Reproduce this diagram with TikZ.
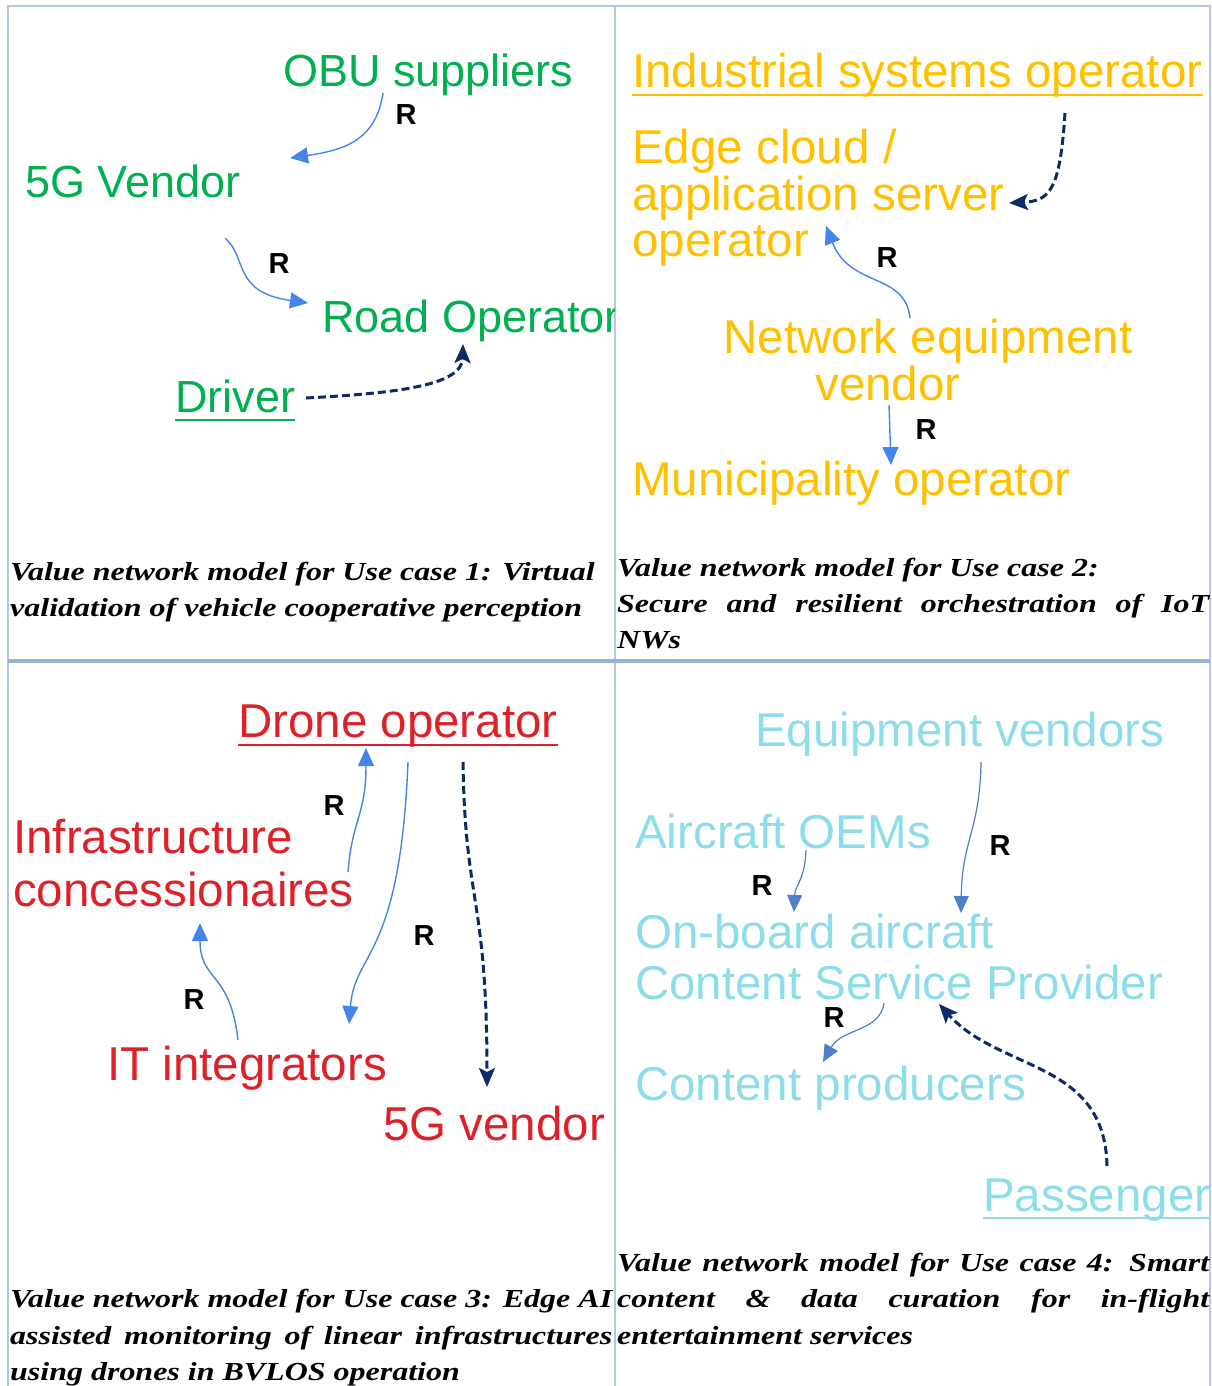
\documentclass[tikz,border=0pt]{standalone}
\usepackage{fontspec}
\setmainfont{Liberation Sans}
\newfontfamily\capfont[FakeStretch=1.23]{Liberation Serif}
\usetikzlibrary{arrows.meta}

\definecolor{gridline}{HTML}{B4C7E7}
\definecolor{gridthick}{HTML}{95B3D7}
\definecolor{actgreen}{HTML}{00B050}
\definecolor{actorange}{HTML}{FFC000}
\definecolor{actred}{HTML}{DE2129}
\definecolor{actcyan}{HTML}{8CDDE8}
\definecolor{relblue}{HTML}{4385EC}
\definecolor{relgrey}{HTML}{4E7FCC}
\definecolor{depnavy}{HTML}{0D2A66}

\tikzset{
  actor/.style={inner sep=0pt, anchor=base west},
  actorc/.style={inner sep=0pt, anchor=base},
  fgreen/.style={text=actgreen, font=\fontsize{45}{54}\selectfont},
  forange/.style={text=actorange, font=\fontsize{47.5}{56}\selectfont},
  fred/.style={text=actred, font=\fontsize{47.5}{56}\selectfont},
  fcyan/.style={text=actcyan, font=\fontsize{47.5}{56}\selectfont},
  rlabel/.style={inner sep=0pt, font=\fontsize{29}{30}\selectfont\bfseries},
  caption/.style={inner sep=0pt, anchor=base west,
    font=\capfont\fontsize{26}{30}\selectfont\bfseries\itshape},
  rel/.style={draw=relblue, line width=1.4pt, -{Triangle[length=18pt,width=16pt]}},
  relthin/.style={draw=relgrey, line width=1.2pt, -{Triangle[length=17pt,width=15pt]}},
  dep/.style={draw=depnavy, line width=3pt, dash pattern=on 8pt off 4pt,
    -{Stealth[length=19pt,width=16pt,inset=4pt]}},
  uline/.style={line width=2.5pt}
}

\begin{document}
\begin{tikzpicture}[x=1pt,y=-1pt]
\useasboundingbox (0,0) rectangle (1211,1386);

% table rules
\draw[gridline, line width=2pt] (8,1386) -- (8,6) -- (1210,6) -- (1210,1386);
\draw[gridline, line width=2pt] (615,6) -- (615,1386);
\draw[gridthick, line width=4pt] (8,661) -- (1210,661);

% ---------- Use case 1 ----------
\node[actor, fgreen] (obu) at (283,87) {OBU suppliers};
\node[actor, fgreen] (v5g) at (25,197) {5G Vendor};
\begin{scope}
  \clip (8,6) rectangle (614,660);
  \node[actor, fgreen] (road) at (322,332) {Road Operator};
\end{scope}
\node[actor, fgreen] (driver) at (175,412) {Driver};
\draw[actgreen, uline] ([yshift=-8pt]driver.base west) -- ([yshift=-8pt]driver.base east);

\coordinate (a1s) at (383,93);  \coordinate (a1e) at (290,158);
\coordinate (a2s) at (225,238); \coordinate (a2e) at (308,303);
\coordinate (d1s) at (306,398); \coordinate (d1e) at (463,344);
\draw[rel] (a1s) .. controls (376,140) and (345,150) .. (a1e);
\draw[rel] (a2s) .. controls (248,258) and (232,292) .. (a2e);
\draw[dep] (d1s) .. controls (400,393) and (462,385) .. (d1e);
\node[rlabel] (r11) at (406,115) {R};
\node[rlabel] (r12) at (279,264) {R};

% ---------- Use case 2 ----------
\node[actor, forange] (ind) at (632,88) {Industrial systems operator};
\draw[actorange, uline] ([yshift=-7pt]ind.base west) -- ([yshift=-7pt]ind.base east);
\node[actor, forange] (edge1) at (632,164) {Edge cloud /};
\node[actor, forange] (edge2) at (632,210) {application server};
\node[actor, forange] (edge3) at (632,256) {operator};
\node[actorc, forange] (net1) at (928,353) {Network equipment};
\node[actorc, forange] (net2) at (888,400) {vendor};
\node[actor, forange] (muni) at (632,495) {Municipality operator};

\coordinate (d2s) at (1065,113); \coordinate (d2e) at (1009,203);
\coordinate (a3s) at (910,318);  \coordinate (a3e) at (826,226);
\coordinate (a4s) at (889,405);  \coordinate (a4e) at (891,465);
\draw[dep] (d2s) .. controls (1060,190) and (1050,201) .. (d2e);
\draw[rel] (a3s) .. controls (905,272) and (850,288) .. (a3e);
\draw[rel] (a4s) -- (a4e);
\node[rlabel] (r21) at (887,258) {R};
\node[rlabel] (r22) at (926,430) {R};

\node[caption] (c1a) at (10,580) {Value network model for Use case 1: Virtual};
\node[caption] (c1b) at (10,616) {validation of vehicle cooperative perception};
\node[caption] (c2a) at (617,576) {Value network model for Use case 2:};
\node[caption] (c2b) at (617,612) {\makebox[592pt][s]{Secure and resilient orchestration of IoT}};
\node[caption] (c2c) at (617,648) {NWs};

% ---------- Use case 3 ----------
\node[actor, fred] (drone) at (238,737) {Drone operator};
\draw[actred, uline] ([yshift=-8pt]drone.base west) -- ([yshift=-8pt]drone.base east);
\node[actor, fred] (infra1) at (13,853) {Infrastructure};
\node[actor, fred] (infra2) at (13,906) {concessionaires};
\node[actor, fred] (itint) at (107,1080) {IT integrators};
\node[actor, fred] (v5g3) at (383,1140) {5G vendor};

\coordinate (a5s) at (348,872);  \coordinate (a5e) at (366,748);
\coordinate (a6s) at (408,762);  \coordinate (a6e) at (349,1024);
\coordinate (a7s) at (238,1040); \coordinate (a7e) at (200,923);
\coordinate (d3s) at (463,762);  \coordinate (d3e) at (487,1087);
\draw[rel] (a5s) .. controls (352,820) and (366,815) .. (a5e);
\draw[rel] (a6s) .. controls (400,960) and (355,950) .. (a6e);
\draw[rel] (a7s) .. controls (230,970) and (200,982) .. (a7e);
\draw[dep] (d3s) .. controls (465,905) and (487,895) .. (d3e);
\node[rlabel] (r31) at (334,806) {R};
\node[rlabel] (r32) at (424,936) {R};
\node[rlabel] (r33) at (194,1000) {R};

% ---------- Use case 4 ----------
\node[actor, fcyan] (equip) at (755,746) {Equipment vendors};
\node[actor, fcyan] (oems) at (635,848) {Aircraft OEMs};
\node[actor, fcyan] (onb) at (635,948) {On-board aircraft};
\node[actor, fcyan] (csp) at (635,999) {Content Service Provider};
\node[actor, fcyan] (prod) at (635,1100) {Content producers};
\node[actor, fcyan] (pass) at (983,1211) {Passenger};
\draw[actcyan, uline] ([yshift=-7pt]pass.base west) -- ([yshift=-7pt]pass.base east);

\coordinate (a8s) at (981,762);  \coordinate (a8e) at (961,913);
\coordinate (a9s) at (806,850);  \coordinate (a9e) at (794,912);
\coordinate (a10s) at (884,1003); \coordinate (a10e) at (823,1062);
\coordinate (d4s) at (1107,1166); \coordinate (d4e) at (939,1004);
\draw[relthin] (a8s) .. controls (980,830) and (962,840) .. (a8e);
\draw[relthin] (a9s) .. controls (805,880) and (795,885) .. (a9e);
\draw[relthin] (a10s) .. controls (880,1032) and (842,1028) .. (a10e);
\draw[dep] (d4s) .. controls (1105,1060) and (1000,1072) .. (d4e);
\node[rlabel] (r41) at (1000,846) {R};
\node[rlabel] (r42) at (762,886) {R};
\node[rlabel] (r43) at (834,1018) {R};

\node[caption] (c3a) at (10,1307) {\makebox[602pt][s]{Value network model for Use case 3: Edge AI}};
\node[caption] (c3b) at (10,1344) {\makebox[602pt][s]{assisted monitoring of linear infrastructures}};
\node[caption] (c3c) at (10,1380) {using drones in BVLOS operation};
\node[caption] (c4a) at (617,1271) {\makebox[592pt][s]{Value network model for Use case 4: Smart}};
\node[caption] (c4b) at (617,1307) {\makebox[592pt][s]{content \& data curation for in-flight}};
\node[caption] (c4c) at (617,1344) {entertainment services};
\end{tikzpicture}
\end{document}
